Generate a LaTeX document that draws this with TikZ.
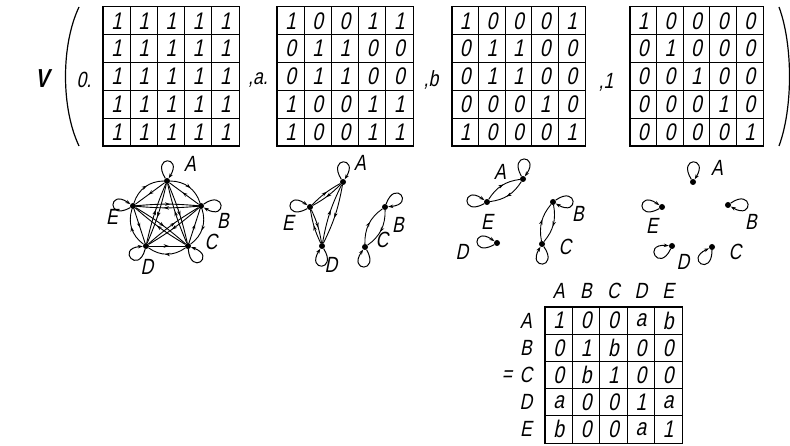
\documentclass[tikz,border=0pt]{standalone}
\usepackage{fontspec}
\setmainfont{Liberation Sans}[FakeSlant=0.2,FakeStretch=0.8]
\usetikzlibrary{arrows.meta,decorations.markings,calc}
\tikzset{
  cell/.style={draw, line width=1pt, inner sep=0pt, font=\fontsize{24}{24}\selectfont},
  frm/.style={line width=1.6pt},
  vtx/.style={circle, fill=black, inner sep=0pt, minimum size=6pt},
  lbl/.style={font=\fontsize{22}{22}\selectfont, inner sep=1pt},
  edg/.style={line width=0.9pt, postaction={decorate}, decoration={markings, mark=at position 0.55 with {\arrow{Stealth[length=5pt,width=3.5pt]}}}},
  lp/.style={line width=1pt, -{Stealth[length=5pt,width=3.5pt]}, distance=27pt},
}
\begin{document}
\begin{tikzpicture}[x=1pt, y=1pt]
    \useasboundingbox (0,0) rectangle (790,445);
    % ---------- V( ... ) ----------
    \node[font=\fontsize{26}{26}\selectfont\bfseries] (vv) at (42,366) {V};
    \draw[line width=1.2pt] (79,438) .. controls (61,400) and (61,337) .. (79,299);
    \draw[line width=1.2pt] (779,438) .. controls (793,400) and (793,337) .. (779,299);
    \node[lbl] (t0) at (84,365) {0.};
    \node[lbl] (ta) at (258,365) {,a.};
    \node[lbl] (tb) at (431,365) {,b};
    \node[lbl] (t1) at (606,363) {,1};
    % ---------- level 0 ----------
    \begin{scope}[shift={(103,438)}]
        \foreach \row [count=\i] in {{1,1,1,1,1},{1,1,1,1,1},{1,1,1,1,1},{1,1,1,1,1},{1,1,1,1,1}}
            \foreach \v [count=\j] in \row
                \node[cell, minimum width=27.2pt, minimum height=27.8pt] (m0-\i-\j) at ({(\j-0.5)*27.2},{-(\i-0.5)*27.8}) {\v};
        \draw[frm] (m0-1-1.north west) rectangle (m0-5-5.south east);
    \end{scope}
    % ---------- level a ----------
    \begin{scope}[shift={(277,438)}]
        \foreach \row [count=\i] in {{1,0,0,1,1},{0,1,1,0,0},{0,1,1,0,0},{1,0,0,1,1},{1,0,0,1,1}}
            \foreach \v [count=\j] in \row
                \node[cell, minimum width=27.2pt, minimum height=27.8pt] (ma-\i-\j) at ({(\j-0.5)*27.2},{-(\i-0.5)*27.8}) {\v};
        \draw[frm] (ma-1-1.north west) rectangle (ma-5-5.south east);
    \end{scope}
    % ---------- level b ----------
    \begin{scope}[shift={(452,438)}]
        \foreach \row [count=\i] in {{1,0,0,0,1},{0,1,1,0,0},{0,1,1,0,0},{0,0,0,1,0},{1,0,0,0,1}}
            \foreach \v [count=\j] in \row
                \node[cell, minimum width=26.6pt, minimum height=27.8pt] (mb-\i-\j) at ({(\j-0.5)*26.6},{-(\i-0.5)*27.8}) {\v};
        \draw[frm] (mb-1-1.north west) rectangle (mb-5-5.south east);
    \end{scope}
    % ---------- level 1 ----------
    \begin{scope}[shift={(630,438)}]
        \foreach \row [count=\i] in {{1,0,0,0,0},{0,1,0,0,0},{0,0,1,0,0},{0,0,0,1,0},{0,0,0,0,1}}
            \foreach \v [count=\j] in \row
                \node[cell, minimum width=26.6pt, minimum height=27.8pt] (m1-\i-\j) at ({(\j-0.5)*26.6},{-(\i-0.5)*27.8}) {\v};
        \draw[frm] (m1-1-1.north west) rectangle (m1-5-5.south east);
    \end{scope}
    % ---------- graph 0 ----------
    \node[vtx] (g0A) at (167,264) {};
    \node[vtx] (g0B) at (201,239) {};
    \node[vtx] (g0C) at (188,199) {};
    \node[vtx] (g0D) at (146,199) {};
    \node[vtx] (g0E) at (133,239) {};
    \foreach \p/\q in {A/B,B/C,C/D,D/E,E/A} {
        \draw[edg] (g0\p) to[bend left=36] (g0\q);
        \draw[edg] (g0\q) to (g0\p);
    }
    \foreach \p/\q in {A/C,A/D,B/D,B/E,C/E} {
        \draw[edg] (g0\p) to[bend left=5] (g0\q);
        \draw[edg] (g0\q) to[bend left=5] (g0\p);
    }
    \draw[lp] (g0A) to[out=122,in=58] (g0A);
    \draw[lp] (g0E) to[out=210,in=145] (g0E);
    \draw[lp] (g0B) to[out=35,in=-30] (g0B);
    \draw[lp] (g0D) to[out=255,in=185] (g0D);
    \draw[lp] (g0C) to[out=-85,in=-20] (g0C);
    \node[lbl] (l0A) at (190,281) {A};
    \node[lbl] (l0E) at (112,228) {E};
    \node[lbl] (l0B) at (223,224) {B};
    \node[lbl] (l0C) at (211,203) {C};
    \node[lbl] (l0D) at (147,178) {D};
    % ---------- graph a ----------
    \node[vtx] (gaA) at (343,263) {};
    \node[vtx] (gaE) at (310,238) {};
    \node[vtx] (gaD) at (322,199) {};
    \node[vtx] (gaB) at (385,238) {};
    \node[vtx] (gaC) at (365,198) {};
    \foreach \p/\q in {A/E,A/D,E/D} {
        \draw[edg] (ga\p) to[bend left=8] (ga\q);
        \draw[edg] (ga\q) to[bend left=8] (ga\p);
    }
    \draw[edg] (gaB) to[bend left=28] (gaC);
    \draw[edg] (gaC) to[bend left=28] (gaB);
    \draw[lp] (gaA) to[out=122,in=58] (gaA);
    \draw[lp] (gaE) to[out=210,in=145] (gaE);
    \draw[lp] (gaB) to[out=70,in=5] (gaB);
    \draw[lp] (gaD) to[out=-58,in=-122] (gaD);
    \draw[lp] (gaC) to[out=-60,in=-125] (gaC);
    \node[lbl] (laA) at (360,282) {A};
    \node[lbl] (laE) at (288,222) {E};
    \node[lbl] (laB) at (398,220) {B};
    \node[lbl] (laC) at (382,205) {C};
    \node[lbl] (laD) at (331,180) {D};
    % ---------- graph b ----------
    \node[vtx] (gbA) at (523,266) {};
    \node[vtx] (gbE) at (487,243) {};
    \node[vtx] (gbB) at (553,243) {};
    \node[vtx] (gbC) at (542,201) {};
    \node[vtx] (gbD) at (497,202) {};
    \draw[edg] (gbA) to[bend left=25] (gbE);
    \draw[edg] (gbE) to[bend left=25] (gbA);
    \draw[edg] (gbB) to[bend left=25] (gbC);
    \draw[edg] (gbC) to[bend left=25] (gbB);
    \draw[lp] (gbA) to[out=120,in=55] (gbA);
    \draw[lp] (gbE) to[out=210,in=145] (gbE);
    \draw[lp] (gbB) to[out=35,in=-30] (gbB);
    \draw[lp] (gbD) to[out=210,in=145] (gbD);
    \draw[lp] (gbC) to[out=-55,in=-120] (gbC);
    \node[lbl] (lbA) at (500,273) {A};
    \node[lbl] (lbE) at (487,223) {E};
    \node[lbl] (lbB) at (578,231) {B};
    \node[lbl] (lbC) at (565,198) {C};
    \node[lbl] (lbD) at (462,193) {D};
    % ---------- graph 1 ----------
    \node[vtx] (g1A) at (693,263) {};
    \node[vtx] (g1E) at (662,238) {};
    \node[vtx] (g1B) at (728,240) {};
    \node[vtx] (g1D) at (672,199) {};
    \node[vtx] (g1C) at (712,198) {};
    \draw[lp] (g1A) to[out=122,in=58] (g1A);
    \draw[lp] (g1E) to[out=210,in=145] (g1E);
    \draw[lp] (g1B) to[out=35,in=-30] (g1B);
    \draw[lp] (g1D) to[out=245,in=175] (g1D);
    \draw[lp] (g1C) to[out=-90,in=-155] (g1C);
    \node[lbl] (l1A) at (717,277) {A};
    \node[lbl] (l1E) at (652,219) {E};
    \node[lbl] (l1B) at (751,223) {B};
    \node[lbl] (l1C) at (735,193) {C};
    \node[lbl] (l1D) at (683,183) {D};
    % ---------- result ----------
    \begin{scope}[shift={(545,138)}]
        \foreach \row [count=\i] in {{1,0,0,a,b},{0,1,b,0,0},{0,b,1,0,0},{a,0,0,1,a},{b,0,0,a,1}}
            \foreach \v [count=\j] in \row
                \node[cell, minimum width=27.4pt, minimum height=27.2pt] (mr-\i-\j) at ({(\j-0.5)*27.4},{-(\i-0.5)*27.2}) {\v};
        \draw[frm] (mr-1-1.north west) rectangle (mr-5-5.south east);
        \foreach \c [count=\j] in {A,B,C,D,E}
            \node[lbl] (h\c) at ({(\j-0.5)*27.4},16) {\c};
        \foreach \c [count=\i] in {A,B,C,D,E}
            \node[lbl] (r\c) at (-19,{-(\i-0.5)*27.2}) {\c};
    \end{scope}
    \node[lbl] (eq) at (507,69) {=};
\end{tikzpicture}
\end{document}
